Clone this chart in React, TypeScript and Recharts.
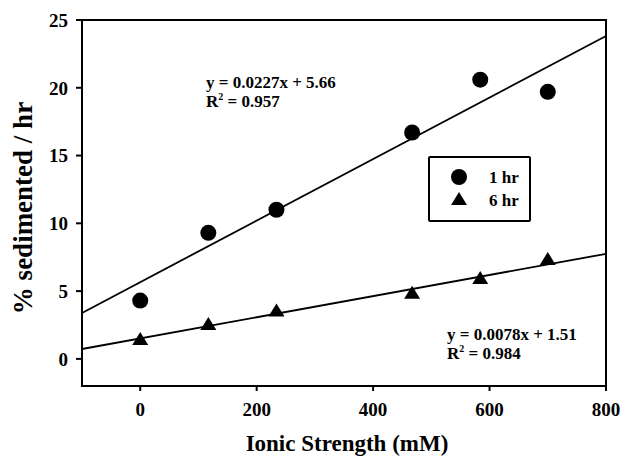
import {
  ReferenceArea,
  ReferenceLine,
  Scatter,
  ScatterChart,
  XAxis,
  YAxis,
} from 'recharts';

const IONIC_STRENGTH = [0, 117, 234, 467, 584, 700];
const ONE_HR = [4.3, 9.3, 11.0, 16.7, 20.6, 19.7];
const SIX_HR = [1.4, 2.5, 3.5, 4.8, 5.9, 7.3];

// slope, intercept from the fitted equations printed on the chart
const FIT_ONE_HR = { slope: 0.0227, intercept: 5.66 };
const FIT_SIX_HR = { slope: 0.0078, intercept: 1.51 };

const X_TICKS = [0, 200, 400, 600, 800];
const Y_TICKS = [0, 5, 10, 15, 20, 25];
const X_DOMAIN: [number, number] = [-100, 800];
const Y_DOMAIN: [number, number] = [-2, 25];

const FONT = '"Liberation Serif", "Times New Roman", serif';

const oneHrData = IONIC_STRENGTH.map((x, i) => ({ x, y: ONE_HR[i] }));
const sixHrData = IONIC_STRENGTH.map((x, i) => ({ x, y: SIX_HR[i] }));

const fitSegment = (fit: { slope: number; intercept: number }) =>
  X_DOMAIN.map((x) => ({ x, y: fit.slope * x + fit.intercept }));

const CircleMark = (props: any) => <circle cx={props.cx} cy={props.cy} r={8} fill="#000" />;

const TriangleMark = (props: any) => {
  const { cx, cy } = props;
  return <polygon points={`${cx},${cy - 8} ${cx - 8},${cy + 5} ${cx + 8},${cy + 5}`} fill="#000" />;
};

// legend box drawn inside the plot, like the original
function BoxLegend({ x, y }: { x: number; y: number }) {
  return (
    <g transform={`translate(${x},${y})`} fontFamily={FONT} fontWeight="bold" fontSize={17}>
      <rect x={0} y={0} width={101} height={64} fill="#fff" stroke="#000" strokeWidth={2} rx={1} />
      <circle cx={30} cy={20} r={8} fill="#000" />
      <text x={60} y={26}>1 hr</text>
      <polygon points="30,35 22,48 38,48" fill="#000" />
      <text x={60} y={49}>6 hr</text>
    </g>
  );
}

const eqStyle = { fontFamily: FONT, fontWeight: 700, fontSize: 17 } as const;
const tickStyle = { fill: '#000', fontSize: 19, fontWeight: 700, fontFamily: FONT };

export default function App() {
  return (
    // fixed at the page corner so the body margin doesn't push the chart into a scrollbar
    <div style={{ position: 'fixed', left: 0, top: 0, background: '#fff' }}>
      <ScatterChart
        width={622}
        height={458}
        margin={{ top: 20, right: 16, bottom: 0, left: 0 }}
        style={{ fontFamily: FONT }}
      >
        <XAxis
          type="number"
          dataKey="x"
          domain={X_DOMAIN}
          ticks={X_TICKS}
          allowDataOverflow
          height={72}
          stroke="#000"
          strokeWidth={2}
          tickSize={5}
          tickMargin={12}
          tick={tickStyle}
        />
        <YAxis
          type="number"
          dataKey="y"
          domain={Y_DOMAIN}
          ticks={Y_TICKS}
          allowDataOverflow
          width={82}
          stroke="#000"
          strokeWidth={2}
          tickSize={6}
          tickMargin={8}
          tick={tickStyle}
        />
        <ReferenceArea
          x1={X_DOMAIN[0]}
          x2={X_DOMAIN[1]}
          y1={Y_DOMAIN[0]}
          y2={Y_DOMAIN[1]}
          fill="none"
          stroke="#000"
          strokeWidth={2}
        />
        <ReferenceLine segment={fitSegment(FIT_ONE_HR)} stroke="#000" strokeWidth={1.8} />
        <ReferenceLine segment={fitSegment(FIT_SIX_HR)} stroke="#000" strokeWidth={1.8} />
        <Scatter name="1 hr" data={oneHrData} shape={CircleMark} isAnimationActive={false} />
        <Scatter name="6 hr" data={sixHrData} shape={TriangleMark} isAnimationActive={false} />
        <BoxLegend x={429} y={157} />
        <text x={206} y={88} style={eqStyle}>y = 0.0227x + 5.66</text>
        <text x={206} y={107} style={eqStyle}>
          R<tspan dy={-7} fontSize={10}>2</tspan>
          <tspan dy={7}> = 0.957</tspan>
        </text>
        <text x={447} y={340} style={eqStyle}>y = 0.0078x + 1.51</text>
        <text x={447} y={359} style={eqStyle}>
          R<tspan dy={-7} fontSize={10}>2</tspan>
          <tspan dy={7}> = 0.984</tspan>
        </text>
        <text
          transform="translate(23,208) rotate(-90)"
          textAnchor="middle"
          dominantBaseline="central"
          fontFamily={FONT}
          fontWeight="bold"
          fontSize={27}
        >
          % sedimented / hr
        </text>
        <text x={347} y={451} textAnchor="middle" fontFamily={FONT} fontWeight="bold" fontSize={23}>
          Ionic Strength (mM)
        </text>
      </ScatterChart>
    </div>
  );
}
